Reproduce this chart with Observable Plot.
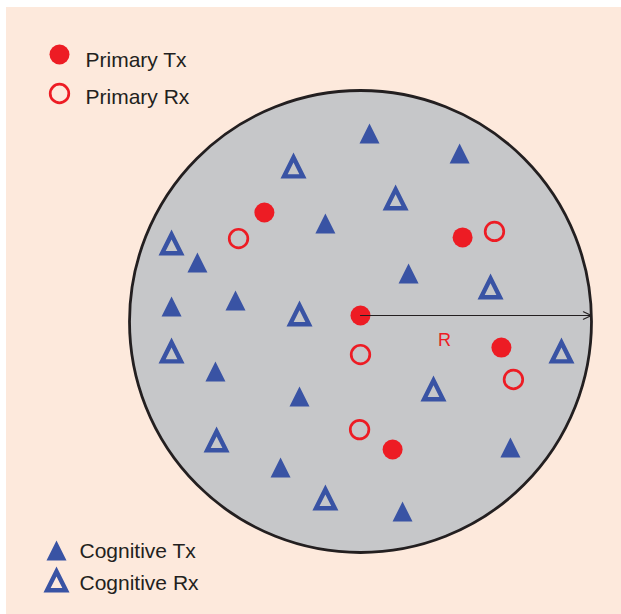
<!DOCTYPE html>
<html>
<head>
<meta charset="utf-8">
<script src="https://cdn.jsdelivr.net/npm/d3@7"></script>
<script src="https://cdn.jsdelivr.net/npm/@observablehq/plot@0.6"></script>
<style>
  html, body { margin: 0; padding: 0; background: #ffffff; }
  #chart { position: absolute; left: 6px; top: 7px; }
</style>
</head>
<body>
<div id="chart"></div>
<script>
// ---- Data (units: radius of the coverage disc R = 100, origin at disc centre) ----
const R = 100;

const primaryTx = [
  {x: -41.6, y: 47.2},
  {x: 44.2, y: 36.4},
  {x: 0.0, y: 2.6},
  {x: 61.0, y: -11.3},
  {x: 13.9, y: -55.4}
];

const primaryRx = [
  {x: -52.8, y: 35.9},
  {x: 58.0, y: 39.0},
  {x: 0.0, y: -14.3},
  {x: 66.2, y: -25.1},
  {x: -0.4, y: -46.8}
];

const cognitiveTx = [
  {x: 3.9, y: 81.4},
  {x: 42.9, y: 72.7},
  {x: -15.2, y: 42.4},
  {x: -70.6, y: 25.5},
  {x: 20.8, y: 20.8},
  {x: -54.1, y: 9.1},
  {x: -81.8, y: 6.5},
  {x: -62.8, y: -21.6},
  {x: -26.4, y: -32.5},
  {x: -34.6, y: -63.2},
  {x: 64.9, y: -54.5},
  {x: 18.2, y: -82.3}
];

const cognitiveRx = [
  {x: -29.0, y: 67.5},
  {x: 15.2, y: 53.7},
  {x: -81.8, y: 34.2},
  {x: 56.3, y: 15.2},
  {x: -26.4, y: 3.5},
  {x: -81.8, y: -12.6},
  {x: 87.0, y: -12.6},
  {x: 31.6, y: -29.0},
  {x: -62.3, y: -51.1},
  {x: -15.2, y: -76.2}
];

const discCentre = [{x: 0, y: 0}];
const radiusLabel = [{label: "R", x: 36.4, y: -8.3}];
const legendPrimary = ["Primary Tx", "Primary Rx"];
const legendCognitive = ["Cognitive Tx", "Cognitive Rx"];

// ---- Styles ----
const RED = "#ed1c24", BLUE = "#3953a4", GREY = "#c6c7c9", PEACH = "#fde9dc", INK = "#231f20";
const FONT = "'Liberation Sans', Arial, Helvetica, sans-serif";
const FS = 21;

// custom triangle symbols
const triFilled = {
  draw(ctx, size) {
    const r = Math.sqrt(size / Math.PI);
    ctx.moveTo(0, -r); ctx.lineTo(r, r); ctx.lineTo(-r, r); ctx.closePath();
  }
};
const triOpen = {
  draw(ctx, size) {
    const r = Math.sqrt(size / Math.PI);
    const A = [0, -r], B = [r, r], C = [-r, r];
    const d = (p, q) => Math.hypot(p[0] - q[0], p[1] - q[1]);
    const a = d(B, C), b = d(A, C), c = d(A, B), P = a + b + c;
    const I = [(a * A[0] + b * B[0] + c * C[0]) / P, (a * A[1] + b * B[1] + c * C[1]) / P];
    const area = 2 * r * r;
    const inr = 2 * area / P;
    const t = 0.34 * r;
    const k = (inr - t) / inr;
    const s = p => [I[0] + k * (p[0] - I[0]), I[1] + k * (p[1] - I[1])];
    ctx.moveTo(...A); ctx.lineTo(...B); ctx.lineTo(...C); ctx.closePath();
    const A2 = s(A), B2 = s(B), C2 = s(C);
    ctx.moveTo(...A2); ctx.lineTo(...C2); ctx.lineTo(...B2); ctx.closePath();
  }
};

const W = 615, H = 607;
const xDom = [-153.25, 112.99], yDom = [-126.84, 135.93];
const k = W / (xDom[1] - xDom[0]);

const centreTx = primaryTx[2];
const arrowData = [{x1: centreTx.x, y1: centreTx.y, x2: Math.sqrt(R * R - centreTx.y * centreTx.y), y2: centreTx.y}];

const mid = 0.32 * FS;

const chart = Plot.plot({
  width: W,
  height: H,
  margin: 0,
  style: {background: PEACH, fontFamily: FONT, overflow: "visible"},
  x: {domain: xDom, axis: null},
  y: {domain: yDom, axis: null},
  marks: [
    Plot.dot(discCentre, {x: "x", y: "y", r: R * k, fill: GREY, stroke: INK, strokeWidth: 2.8}),
    Plot.dot(cognitiveTx, {x: "x", y: "y", symbol: triFilled, r: 10, fill: BLUE, stroke: "none"}),
    Plot.dot(cognitiveRx, {x: "x", y: "y", symbol: triOpen, r: 13, fill: BLUE, stroke: "none"}),
    Plot.dot(primaryRx, {x: "x", y: "y", r: 9.3, fill: "none", stroke: RED, strokeWidth: 2.7}),
    Plot.dot(primaryTx, {x: "x", y: "y", r: 10, fill: RED, stroke: "none"}),
    Plot.arrow(arrowData, {x1: "x1", y1: "y1", x2: "x2", y2: "y2", stroke: INK, strokeWidth: 1.2, headLength: 11, headAngle: 50}),
    Plot.text(radiusLabel, {x: "x", y: "y", text: "label", fill: RED, fontSize: 18, lineAnchor: "middle"}),
    // legends
    Plot.dot([legendPrimary[0]], {frameAnchor: "top-left", dx: 53, dy: 47, r: 10, fill: RED, stroke: "none"}),
    Plot.dot([legendPrimary[1]], {frameAnchor: "top-left", dx: 53, dy: 86, r: 9.3, fill: "none", stroke: RED, strokeWidth: 2.7}),
    Plot.text([legendPrimary[0]], {frameAnchor: "top-left", dx: 79, dy: 59 - mid, text: d => d, textAnchor: "start", lineAnchor: "middle", fontSize: FS, fill: INK}),
    Plot.text([legendPrimary[1]], {frameAnchor: "top-left", dx: 79, dy: 96 - mid, text: d => d, textAnchor: "start", lineAnchor: "middle", fontSize: FS, fill: INK}),
    Plot.dot([legendCognitive[0]], {frameAnchor: "top-left", dx: 50, dy: 543, symbol: triFilled, r: 10, fill: BLUE, stroke: "none"}),
    Plot.dot([legendCognitive[1]], {frameAnchor: "top-left", dx: 50, dy: 572, symbol: triOpen, r: 13, fill: BLUE, stroke: "none"}),
    Plot.text([legendCognitive[0]], {frameAnchor: "top-left", dx: 73, dy: 550 - mid, text: d => d, textAnchor: "start", lineAnchor: "middle", fontSize: FS, fill: INK}),
    Plot.text([legendCognitive[1]], {frameAnchor: "top-left", dx: 73, dy: 582 - mid, text: d => d, textAnchor: "start", lineAnchor: "middle", fontSize: FS, fill: INK})
  ]
});

document.getElementById("chart").appendChild(chart);
</script>
</body>
</html>
